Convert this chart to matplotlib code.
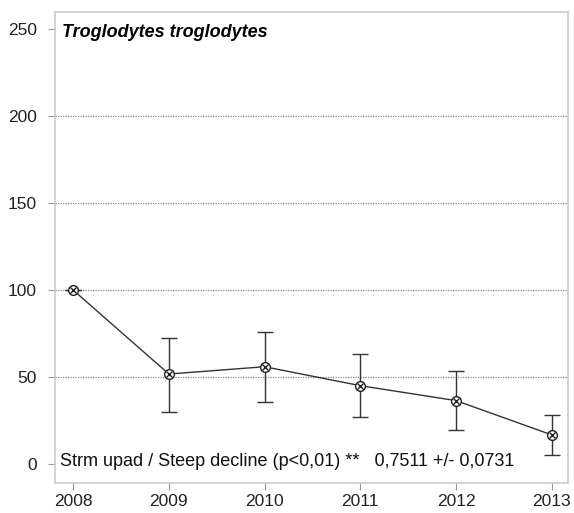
import numpy as np
import matplotlib.pyplot as plt

plt.rcParams['font.family'] = ['Liberation Sans', 'DejaVu Sans']

# values
years = [2008, 2009, 2010, 2011, 2012, 2013]
index = [100, 51.7, 55.9, 45.0, 36.4, 16.7]
upper = [100, 72.6, 76.0, 63.2, 53.4, 28.0]
lower = [100, 30.1, 35.8, 26.8, 19.5, 5.2]
yticks = [0, 50, 100, 150, 200, 250]

err = [np.array(index) - np.array(lower), np.array(upper) - np.array(index)]

fig = plt.figure(figsize=(5.74, 5.13), dpi=100)
ax = fig.add_axes([55/574, 30/513, 513/574, 471/513])

for y in [50, 100, 150, 200]:
    ax.axhline(y, color='#888888', ls=(0, (1, 1)), lw=0.9, zorder=0)

ax.errorbar(years, index, yerr=err, color='#333333', lw=1.0, capsize=6,
            elinewidth=1.0, capthick=1.0, fmt='none', zorder=2)
ax.plot(years, index, color='#333333', lw=1.0, zorder=3)
ax.plot(years, index, 'o', ms=7, mfc='white', mec='#222222', mew=1.0, zorder=4)
ax.plot(years, index, 'x', ms=5, color='#222222', mew=1.0, zorder=5)

ax.set_xlim(2007.81, 2013.17)
ax.set_ylim(-11, 260)
ax.set_xticks(years)
ax.set_yticks(yticks)
ax.tick_params(labelsize=12.5, color='#999999', length=5, labelcolor='#222222')
ax.tick_params(axis='x', pad=3)
ax.tick_params(axis='y', pad=8)

for s in ax.spines.values():
    s.set_color('#cccccc')
    s.set_linewidth(1.2)

ax.text(0.013, 0.975, 'Troglodytes troglodytes', transform=ax.transAxes,
        fontsize=13, fontweight='bold', fontstyle='italic', va='top', ha='left')
ax.text(0.01, 0.045, 'Strm upad / Steep decline (p<0,01) **   0,7511 +/- 0,0731',
        transform=ax.transAxes, fontsize=13, va='center', ha='left', color='#111111')

fig.savefig('out.png', dpi=100)
